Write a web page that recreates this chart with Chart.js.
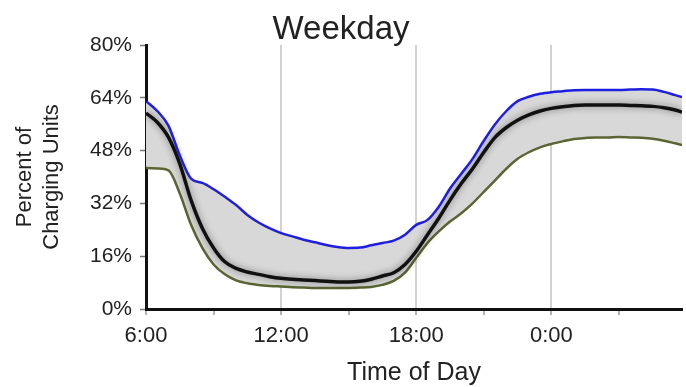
<!DOCTYPE html>
<html>
<head>
<meta charset="utf-8">
<script src="https://cdn.jsdelivr.net/npm/chart.js@4"></script>
<style>
  html, body { margin: 0; background: #fff; }
  #wrap { width: 686px; height: 387px; }
</style>
</head>
<body>
<div id="wrap"><canvas id="weekdayChart"></canvas></div>
<script>
// time of day in hours (6 = 6:00, 24 = 0:00 next day)
const hours = [6, 6.5, 7, 7.5, 8, 8.5, 9, 9.5, 10, 10.5, 11, 11.5, 12, 12.5, 13, 13.5,
  14, 14.5, 15, 15.5, 16, 16.5, 17, 17.5, 18, 18.5, 19, 19.5, 20, 20.5, 21, 21.5,
  22, 22.5, 23, 23.5, 24, 24.5, 25, 25.5, 26, 26.5, 27, 27.5, 28, 28.5, 29, 29.5, 29.8];

// upper bound (blue)
const upperValues = [63, 60, 55.5, 46.5, 39.5, 38.2, 36.3, 34, 31.5, 28.5, 26.2, 24.4, 23, 22, 21, 20.2,
  19.4, 18.8, 18.5, 18.6, 19.3, 20, 20.7, 22.5, 25.5, 27, 31, 36.5, 41, 45.5, 51, 56,
  60, 63, 64.3, 65.2, 65.7, 66, 66.3, 66.4, 66.4, 66.4, 66.4, 66.5, 66.6, 66.5, 65.8, 64.8, 64.2];

// average (black)
const meanValues = [59.4, 56.6, 52, 44, 33, 24.5, 18.5, 14.3, 12.3, 11.2, 10.5, 9.8, 9.3, 9, 8.8, 8.6,
  8.4, 8.2, 8.2, 8.4, 9, 10, 11, 13.5, 17.5, 22.5, 27.5, 33, 38, 42.5, 47.5, 52,
  55, 57.2, 58.8, 60, 60.8, 61.3, 61.7, 61.8, 61.8, 61.8, 61.8, 61.7, 61.6, 61.4, 61, 60.3, 59.7];

// lower bound (olive)
const lowerValues = [42.7, 42.6, 42, 35, 25.5, 18.5, 13.5, 10.5, 8.7, 7.8, 7.3, 7, 6.8, 6.6, 6.5, 6.4,
  6.4, 6.4, 6.4, 6.5, 6.7, 7.3, 8.5, 11, 15.5, 20, 23.5, 26.5, 29, 32, 35.5, 39,
  42.5, 45.5, 47.5, 49, 50, 50.8, 51.5, 51.8, 52, 52, 52.1, 52, 51.9, 51.6, 51, 50.2, 49.7];

const gridHours = [12, 18, 24];

function toPoints(values) {
  return hours.map((h, i) => ({ x: h, y: values[i] }));
}

// soft gray glow around the average line
const glowPlugin = {
  id: 'glow',
  beforeDatasetDraw(chart, args) {
    if (args.index !== 1) return;
    chart.ctx.save();
    chart.ctx.shadowColor = 'rgba(0,0,0,0.45)';
    chart.ctx.shadowBlur = 7;
  },
  afterDatasetDraw(chart, args) {
    if (args.index !== 1) return;
    chart.ctx.restore();
  }
};

const ctx = document.getElementById('weekdayChart').getContext('2d');
const weekdayChart = new Chart(ctx, {
  type: 'line',
  data: {
    datasets: [
      {
        data: toPoints(upperValues),
        borderColor: '#1e1ee0',
        borderWidth: 2.5,
        backgroundColor: '#d8d8d8',
        fill: '+2'
      },
      {
        data: toPoints(meanValues),
        borderColor: '#111111',
        borderWidth: 3.5,
        fill: false
      },
      {
        data: toPoints(lowerValues),
        borderColor: '#5a6533',
        borderWidth: 2.5,
        fill: false
      }
    ]
  },
  plugins: [glowPlugin],
  options: {
    responsive: true,
    maintainAspectRatio: false,
    animation: false,
    layout: { padding: { right: 4 } },
    elements: {
      point: { radius: 0 },
      line: { cubicInterpolationMode: 'monotone' }
    },
    plugins: {
      legend: { display: false },
      tooltip: { enabled: false },
      filler: { drawTime: 'beforeDatasetsDraw' },
      title: {
        display: true,
        text: 'Weekday',
        color: '#222',
        font: { family: 'Liberation Sans, Arial, sans-serif', size: 33, weight: 'normal', lineHeight: 1 },
        padding: { top: 13, bottom: -1 }
      }
    },
    scales: {
      x: {
        type: 'linear',
        min: 6,
        max: 29.8,
        afterFit: (scale) => { scale.height = 78; },
        border: { display: true, color: '#111', width: 3 },
        grid: {
          color: (c) => gridHours.includes(c.tick && c.tick.value) ? '#d2d2d2' : 'rgba(0,0,0,0)',
          lineWidth: 2,
          tickColor: '#999',
          tickWidth: 1.5,
          tickLength: 6
        },
        ticks: {
          stepSize: 3,
          includeBounds: false,
          autoSkip: false,
          maxRotation: 0,
          padding: 8,
          color: '#222',
          font: { family: 'Liberation Sans, Arial, sans-serif', size: 22 },
          callback: (v) => v % 6 === 0 ? (v % 24) + ':00' : ''
        },
        title: {
          display: true,
          text: 'Time of Day',
          color: '#222',
          font: { family: 'Liberation Sans, Arial, sans-serif', size: 25 },
          padding: { top: 4, bottom: -1 }
        }
      },
      y: {
        min: 0,
        max: 80,
        afterFit: (scale) => { scale.width = 146; },
        border: { display: true, color: '#111', width: 3 },
        grid: {
          drawOnChartArea: false,
          tickColor: '#777',
          tickWidth: 1.5,
          tickLength: 6
        },
        ticks: {
          stepSize: 16,
          padding: 8,
          color: '#222',
          font: { family: 'Liberation Sans, Arial, sans-serif', size: 21 },
          callback: (v) => v + '%'
        },
        title: {
          display: true,
          text: ['Percent of', 'Charging Units'],
          color: '#222',
          font: { family: 'Liberation Sans, Arial, sans-serif', size: 22, lineHeight: 1.2 },
          padding: { top: 12, bottom: 0 }
        }
      }
    }
  }
});
</script>
</body>
</html>
